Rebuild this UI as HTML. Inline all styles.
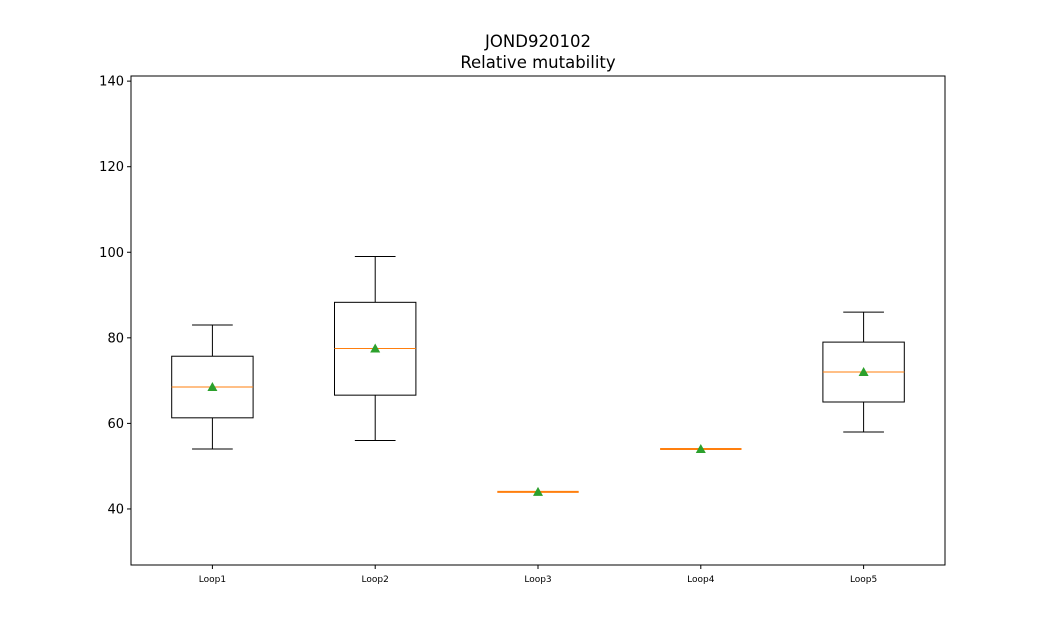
<!DOCTYPE html>
<html><head><meta charset="utf-8"><style>
body{margin:0;background:#fff;}
svg{display:block;font-family:"DejaVu Sans","Liberation Sans",sans-serif;}
</style></head><body>
<svg id="chart" width="1050" height="635">
<text x="538" y="47" text-anchor="middle" font-size="16.5">JOND920102</text>
<text x="538" y="68" text-anchor="middle" font-size="16.5">Relative mutability</text>
<g id="marks"></g>
<rect x="131" y="76" width="814" height="489" fill="none" stroke="#000" stroke-width="1"/>
</svg>
<script>
const categories=["Loop1","Loop2","Loop3","Loop4","Loop5"];
const whiskerLow=[54,56,44,54,58];
const q1=[61.3,66.6,44,54,65];
const medians=[68.5,77.5,44,54,72];
const q3=[75.7,88.3,44,54,79];
const whiskerHigh=[83,99,44,54,86];
const means=[68.5,77.5,44,54,72];
const yTicks=[40,60,80,100,120,140];
const L=131,R=945,T=76,B=565,ymin=26.9,ymax=141.2;
const ys=v=>B-(v-ymin)/(ymax-ymin)*(B-T);
const xs=i=>L+(i+0.5)/categories.length*(R-L);
const ns="http://www.w3.org/2000/svg";
const g=document.getElementById('marks');
function mk(t,a){const e=document.createElementNS(ns,t);for(const k in a)e.setAttribute(k,a[k]);g.appendChild(e);return e;}
yTicks.forEach(v=>{
 const y=ys(v);
 const t=mk('line',{x1:L-4,x2:L,y1:y,y2:y,stroke:'#000'});
 
 
 const tx=mk('text',{x:L-7,y:y+4.5,'text-anchor':'end','font-size':'13'});
 tx.textContent=v;
 
 
});
const bw=(R-L)/categories.length*0.5;
categories.forEach((c,i)=>{
 const x=xs(i);
 const tk=mk('line',{x1:x,x2:x,y1:B,y2:B+4,stroke:'#000'});
 
 
 const lb=mk('text',{x:x,y:B+17,'text-anchor':'middle','font-size':'9'});
 lb.textContent=c;
 
 
 const w1=mk('line',{x1:x,x2:x,y1:ys(whiskerLow[i]),y2:ys(q1[i]),stroke:'#000'});
 
 
 const w2=mk('line',{x1:x,x2:x,y1:ys(q3[i]),y2:ys(whiskerHigh[i]),stroke:'#000'});
 
 
 [whiskerLow[i],whiskerHigh[i]].forEach(v=>{
  const cp=mk('line',{x1:x-bw/4,x2:x+bw/4,y1:ys(v),y2:ys(v),stroke:'#000'});
  
  
 });
 const bx=mk('rect',{x:x-bw/2,y:ys(q3[i]),width:bw,height:Math.max(0,ys(q1[i])-ys(q3[i])),fill:'none',stroke:'#000'});
 
 
 const md=mk('line',{x1:x-bw/2,x2:x+bw/2,y1:ys(medians[i]),y2:ys(medians[i]),stroke:'#ff7f0e','stroke-width':(q1[i]===q3[i]?2:1)});
 
 
 const my=ys(means[i]);
 const mn=mk('polygon',{points:`${x},${my-5} ${x-5},${my+4} ${x+5},${my+4}`,fill:'#2ca02c'});
 
 
});
</script>
</body></html>
